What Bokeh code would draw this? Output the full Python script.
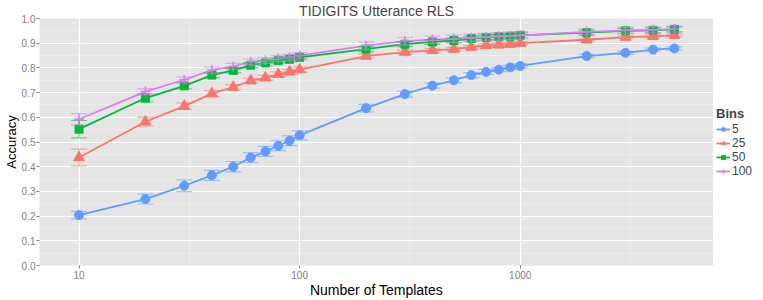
from bokeh.plotting import figure
from bokeh.layouts import row
from bokeh.models import (ColumnDataSource, Range1d, FixedTicker, NumeralTickFormatter,
                          Whisker, TeeHead, Legend, LegendItem, SingleIntervalTicker)
from bokeh.embed import file_html
from bokeh.resources import INLINE

templates = [10, 20, 30, 40, 50, 60, 70, 80, 90, 100, 200, 300, 400, 500, 600, 700, 800, 900,
             1000, 2000, 3000, 4000, 5000]

acc_5 = [0.204, 0.269, 0.323, 0.365, 0.400, 0.437, 0.462, 0.485, 0.505, 0.527, 0.637, 0.694,
         0.728, 0.750, 0.771, 0.784, 0.793, 0.802, 0.808, 0.848, 0.861, 0.874, 0.879]
err_5 = [0.015, 0.020, 0.024, 0.020, 0.021, 0.020, 0.020, 0.020, 0.020, 0.018, 0.015, 0.012,
         0.010, 0.010, 0.010, 0.010, 0.008, 0.008, 0.008, 0.007, 0.006, 0.006, 0.006]

acc_25 = [0.437, 0.582, 0.645, 0.696, 0.722, 0.748, 0.760, 0.774, 0.784, 0.793, 0.848, 0.864,
          0.871, 0.876, 0.884, 0.891, 0.893, 0.896, 0.900, 0.914, 0.925, 0.928, 0.932]
err_25 = [0.034, 0.018, 0.013, 0.012, 0.010, 0.010, 0.010, 0.010, 0.010, 0.010, 0.008, 0.008,
          0.008, 0.007, 0.007, 0.007, 0.007, 0.007, 0.006, 0.006, 0.006, 0.006, 0.005]

acc_50 = [0.552, 0.678, 0.727, 0.771, 0.790, 0.811, 0.820, 0.829, 0.835, 0.843, 0.876, 0.896,
          0.905, 0.911, 0.919, 0.923, 0.926, 0.928, 0.932, 0.943, 0.950, 0.952, 0.956]
err_50 = [0.035, 0.016, 0.012, 0.010, 0.010, 0.010, 0.010, 0.010, 0.010, 0.010, 0.010, 0.010,
          0.010, 0.010, 0.010, 0.010, 0.010, 0.010, 0.010, 0.010, 0.010, 0.010, 0.010]

acc_100 = [0.592, 0.704, 0.752, 0.791, 0.806, 0.824, 0.830, 0.838, 0.843, 0.850, 0.890, 0.908,
           0.914, 0.918, 0.922, 0.925, 0.928, 0.930, 0.932, 0.946, 0.952, 0.954, 0.957]
err_100 = [0.023, 0.012, 0.012, 0.012, 0.012, 0.012, 0.012, 0.012, 0.012, 0.012, 0.015, 0.015,
           0.015, 0.015, 0.015, 0.015, 0.015, 0.015, 0.015, 0.012, 0.012, 0.012, 0.012]

bins = ["5", "25", "50", "100"]
colors = ["#619CFF", "#F8766D", "#00BA38", "#E07AF5"]
markers = ["circle", "triangle", "square", "cross"]
msizes = [9, 11, 8, 10]
series = [(acc_5, err_5), (acc_25, err_25), (acc_50, err_50), (acc_100, err_100)]

FONT = "Liberation Sans"

p = figure(width=713, height=300, x_axis_type="log", output_backend="svg",
           toolbar_location=None, x_range=Range1d(6.62, 7516), y_range=Range1d(0, 1),
           min_border_left=31, min_border_right=0, min_border_top=17, min_border_bottom=20,
           title="TIDIGITS Utterance RLS")
p.background_fill_color = "#E5E5E5"
p.border_fill_color = "white"
p.outline_line_color = None

p.title.align = "center"
p.title.text_font = FONT
p.title.text_font_size = "14px"
p.title.text_font_style = "normal"
p.title.standoff = 0
p.title.offset = 0

# ticks / grid
p.xaxis.ticker = FixedTicker(ticks=[10, 100, 1000], minor_ticks=[3.1623, 31.623, 316.23, 3162.3])
p.yaxis.ticker = SingleIntervalTicker(interval=0.1, num_minor_ticks=2)
p.xaxis.formatter = NumeralTickFormatter(format="0")
p.yaxis.formatter = NumeralTickFormatter(format="0.0")
for ax in (p.xaxis, p.yaxis):
    ax.axis_line_color = None
    ax.major_tick_line_color = "#7F7F7F"
    ax.major_tick_out = 3
    ax.major_tick_in = 0
    ax.minor_tick_line_color = None
    ax.major_label_text_color = "#7F7F7F"
    ax.major_label_text_font = FONT
    ax.major_label_text_font_size = "10px"
    ax.axis_label_text_font = FONT
    ax.axis_label_text_font_size = "14px"
    ax.axis_label_text_font_style = "normal"
    ax.axis_label_text_color = "black"
    ax.axis_label_standoff = 0
p.xaxis.major_label_standoff = 1
p.yaxis.major_label_standoff = 0
p.yaxis.axis_label_text_font_size = "13px"
p.xaxis.axis_label = "Number of Templates"
p.yaxis.axis_label = "Accuracy"

for g in (p.xgrid, p.ygrid):
    g.grid_line_color = "white"
    g.grid_line_width = 1.2
    g.minor_grid_line_color = "#F2F2F2"
    g.minor_grid_line_width = 0.6

# error bars
for (acc, err), col in zip(series, colors):
    src = ColumnDataSource(dict(x=templates,
                                upper=[a + e for a, e in zip(acc, err)],
                                lower=[a - e for a, e in zip(acc, err)]))
    w = Whisker(base="x", upper="upper", lower="lower", source=src, dimension="height",
                line_color=col, line_alpha=0.55, line_width=1.2, level="glyph",
                upper_head=TeeHead(size=16, line_color=col, line_alpha=0.55, line_width=1.2),
                lower_head=TeeHead(size=16, line_color=col, line_alpha=0.55, line_width=1.2))
    p.add_layout(w)

sources = []
for (acc, err), col, mk, ms in zip(series, colors, markers, msizes):
    src = ColumnDataSource(dict(x=templates, y=acc))
    sources.append(src)
    p.line("x", "y", source=src, line_color=col, line_width=1.8)
    p.scatter("x", "y", source=src, marker=mk, size=ms, fill_color=col,
              line_color=col, line_width=1.5 if mk == "cross" else 1)

# legend in a narrow companion figure to the right of the panel
# (same sources; their points fall outside this figure's ranges, so only the legend shows)
lf = figure(width=50, height=300, output_backend="svg", toolbar_location=None,
            x_range=Range1d(-2, -1), y_range=Range1d(-2, -1),
            min_border_left=0, min_border_right=0, min_border_top=0, min_border_bottom=10)
lf.axis.visible = False
lf.grid.visible = False
lf.outline_line_color = None
lf.background_fill_color = "white"
items = []
for src, col, mk, ms, lab in zip(sources, colors, markers, msizes, bins):
    ln = lf.line("x", "y", source=src, line_color=col, line_width=1.8)
    sc = lf.scatter("x", "y", source=src, marker=mk, size=ms - 1, fill_color=col,
                    line_color=col, line_width=1.5 if mk == "cross" else 1)
    items.append(LegendItem(label=lab, renderers=[ln, sc]))

legend = Legend(items=items, location="left", title="Bins",
                title_text_font_style="bold", title_text_font_size="13px",
                title_text_font=FONT, title_standoff=1, title_text_line_height=1.0,
                label_text_font=FONT, label_text_font_size="12px",
                label_text_line_height=0.8,
                glyph_height=10, glyph_width=14, label_height=10, label_standoff=2,
                spacing=0, padding=0, margin=3, border_line_color=None,
                background_fill_alpha=0)
lf.add_layout(legend, "center")

layout = row(p, lf, spacing=0)
open("out.html", "w").write(file_html(layout, INLINE))
